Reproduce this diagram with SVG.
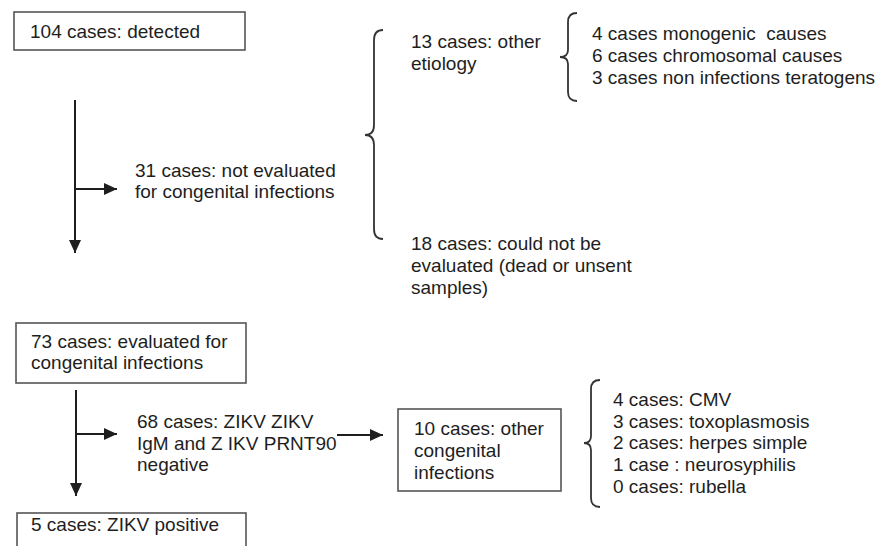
<svg xmlns="http://www.w3.org/2000/svg" width="881" height="546" viewBox="0 0 881 546">
<style>
text{font-family:"Liberation Sans",Arial,sans-serif;font-size:19px;fill:#1e1e1e;white-space:pre}
.box{fill:#fff;stroke:#555;stroke-width:1.6}
.ln{stroke:#1e1e1e;stroke-width:2;fill:none}
.br{stroke:#333;stroke-width:1.8;fill:none}
</style>
<defs>
<marker id="ah" markerWidth="13" markerHeight="12" refX="13" refY="6" orient="auto" markerUnits="userSpaceOnUse">
<path d="M0,0 L13,6 L0,12 Z" fill="#1e1e1e"/>
</marker>
</defs>
<rect width="881" height="546" fill="#fff"/>
<g id="n1"><rect class="box" x="14" y="12" width="231" height="38"/><text x="30" y="38">104 cases: detected</text></g>
<g id="n2"><text x="135" y="177">31 cases: not evaluated</text><text x="135" y="198">for congenital infections</text></g>
<g id="n3"><text x="411" y="48">13 cases: other</text><text x="411" y="70">etiology</text></g>
<g id="n4"><text x="592" y="40" xml:space="preserve">4 cases monogenic  causes</text><text x="592" y="62">6 cases chromosomal causes</text><text x="592" y="84">3 cases non infections teratogens</text></g>
<g id="n5"><text x="411" y="250">18 cases: could not be</text><text x="411" y="272">evaluated (dead or unsent</text><text x="411" y="294">samples)</text></g>
<g id="n6"><rect class="box" x="16" y="323" width="230" height="60"/><text x="31" y="348">73 cases: evaluated for</text><text x="31" y="369">congenital infections</text></g>
<g id="n7"><text x="137" y="428">68 cases: ZIKV ZIKV</text><text x="137" y="450">IgM and Z IKV PRNT90</text><text x="137" y="471">negative</text></g>
<g id="n8"><rect class="box" x="398" y="409" width="163" height="82"/><text x="414" y="435">10 cases: other</text><text x="414" y="457">congenital</text><text x="414" y="479">infections</text></g>
<g id="n9"><text x="613" y="406">4 cases: CMV</text><text x="613" y="428">3 cases: toxoplasmosis</text><text x="613" y="449">2 cases: herpes simple</text><text x="613" y="471">1 case : neurosyphilis</text><text x="613" y="493">0 cases: rubella</text></g>
<g id="n10"><rect class="box" x="17" y="513" width="229" height="40"/><text x="31" y="531">5 cases: ZIKV positive</text></g>
<g id="connectors">
<line class="ln" x1="75" y1="100" x2="75" y2="253" marker-end="url(#ah)"/>
<line class="ln" x1="75" y1="189" x2="117" y2="189" marker-end="url(#ah)"/>
<line class="ln" x1="76" y1="390" x2="76" y2="496" marker-end="url(#ah)"/>
<line class="ln" x1="76" y1="434" x2="117" y2="434" marker-end="url(#ah)"/>
<line class="ln" x1="337" y1="435" x2="383" y2="435" marker-end="url(#ah)"/>
<path class="br" d="M383,30 Q374,30 374,40 L374,125 Q374,135 365,135 Q374,135 374,145 L374,229 Q374,239 383,239"/>
<path class="br" d="M577,13 Q568,13 568,22 L568,50 Q568,57 560,57 Q568,57 568,64 L568,92 Q568,101 577,101"/>
<path class="br" d="M600,380 Q591,380 591,389 L591,436 Q591,443 584,443 Q591,443 591,450 L591,498 Q591,507 600,507"/>
</g>
</svg>
